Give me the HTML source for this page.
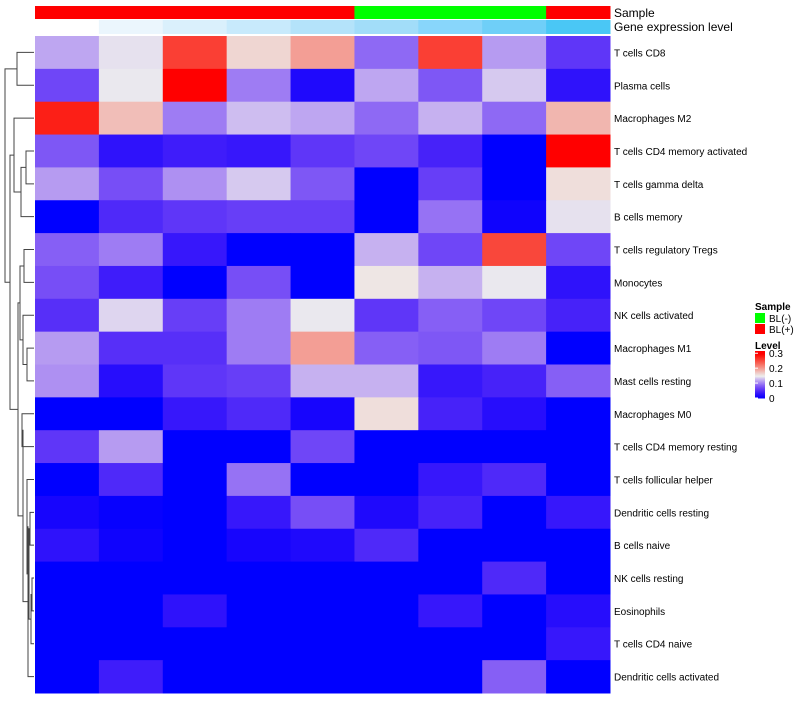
<!DOCTYPE html>
<html><head><meta charset="utf-8">
<style>
body{margin:0;background:#fff;font-family:"Liberation Sans",sans-serif;}
#wrap{position:relative;width:800px;height:700px;}
svg text{font-family:"Liberation Sans",sans-serif;}
</style></head>
<body><div id="wrap">
<svg id="chart" width="800" height="700"></svg>
</div>
<script>
const rowLabels=["T cells CD8","Plasma cells","Macrophages M2","T cells CD4 memory activated","T cells gamma delta","B cells memory","T cells regulatory  Tregs","Monocytes","NK cells activated","Macrophages M1","Mast cells resting","Macrophages M0","T cells CD4 memory resting","T cells follicular helper","Dendritic cells resting","B cells naive","NK cells resting","Eosinophils","T cells CD4 naive","Dendritic cells activated"];
const sampleGroups=["BL(+)","BL(+)","BL(+)","BL(+)","BL(+)","BL(-)","BL(-)","BL(-)","BL(+)"];
const geneLevels=[0,1,2,3,4,5,6,7,8];
const values=[
[0.12,0.145,0.26,0.165,0.2,0.09,0.26,0.115,0.06],
[0.07,0.148,0.3,0.1,0.02,0.12,0.08,0.135,0.03],
[0.28,0.18,0.1,0.13,0.12,0.09,0.125,0.09,0.185],
[0.08,0.03,0.04,0.035,0.06,0.07,0.045,0,0.3],
[0.115,0.075,0.11,0.135,0.08,0,0.065,0,0.16],
[0,0.05,0.06,0.065,0.065,0,0.095,0.01,0.145],
[0.085,0.1,0.035,0,0,0.125,0.07,0.255,0.07],
[0.075,0.04,0,0.075,0,0.155,0.125,0.148,0.03],
[0.055,0.14,0.065,0.1,0.148,0.06,0.085,0.07,0.045],
[0.115,0.055,0.055,0.1,0.2,0.085,0.08,0.1,0],
[0.11,0.025,0.06,0.065,0.125,0.125,0.035,0.045,0.085],
[0,0,0.035,0.05,0.015,0.16,0.045,0.025,0],
[0.06,0.115,0,0,0.07,0,0,0,0],
[0,0.05,0,0.095,0,0,0.035,0.05,0],
[0.015,0.005,0,0.035,0.075,0.02,0.045,0,0.035],
[0.03,0.01,0,0.015,0.02,0.05,0,0,0],
[0,0,0,0,0,0,0,0.05,0],
[0,0,0.03,0,0,0,0.035,0,0.025],
[0,0,0,0,0,0,0,0,0.035],
[0,0.04,0,0,0,0,0,0.085,0]];
const legendTicks=[0,0.1,0.2,0.3];
const NS="http://www.w3.org/2000/svg";
const svg=document.getElementById('chart');
const X0=35,X1=610,Y0=36,Y1=693,VMAX=0.3;
const nC=9,nR=rowLabels.length,cw=(X1-X0)/nC,rh=(Y1-Y0)/nR;
function xs(i){return X0+i*cw;}
function ys(j){return Y0+j*rh;}
function mk(t,a){const e=document.createElementNS(NS,t);for(const k in a)e.setAttribute(k,a[k]);svg.appendChild(e);return e;}
function col(v){let t=Math.max(0,Math.min(1,v/VMAX));let r,g,b;
 if(t<0.5){const s=t/0.5;r=238*s;g=238*Math.pow(s,1.6);b=255-17*s;}
 else{const s=(t-0.5)/0.5;r=238+17*s;g=238*(1-s);b=238*Math.pow(1-s,1.15);}
 return `rgb(${r|0},${g|0},${b|0})`;}
const geneCols=["#ffffff","#ebf6fd","#daf0fc","#c8eafc","#b4e3fa","#a2ddf9","#88d6fb","#6fcff8","#4ac7f5"];
sampleGroups.forEach((s,i)=>{const r=mk('rect',{x:xs(i),y:6,width:cw+0.5,height:13,fill:s==="BL(-)"?"#00ff00":"#ff0000"});
});
geneLevels.forEach((g,i)=>{const r=mk('rect',{x:xs(i),y:20,width:cw+0.5,height:14,fill:geneCols[g]});
});
let t=mk('text',{x:614,y:17,'font-size':12});t.textContent="Sample";
t=mk('text',{x:614,y:31,'font-size':12});t.textContent="Gene expression level";
values.forEach((row,j)=>{row.forEach((v,i)=>{const r=mk('rect',{x:xs(i),y:ys(j),width:cw+0.5,height:rh+0.5,fill:col(v)});
});
const l=mk('text',{x:614,y:ys(j)+rh/2+4,'font-size':10});l.textContent=rowLabels[j];
});
const merges=[[0,1,17],[3,4,26],["m1",5,21],[2,"m2",14],[6,7,24],[9,10,27],[8,"m5",23],["m4","m6",20],[11,12,22],[14,15,30],[16,17,32],["m10",18,31],["m9","m11",29],[13,"m12",27],["m13",19,28],["m8","m14",23],["m7","m15",18],["m3","m16",10],["m0","m17",5]];
const pos={};
function gp(n){if(typeof n==="number")return {y:ys(n)+rh/2,x:34};return pos[n];}
merges.forEach((m,k)=>{const a=gp(m[0]),b=gp(m[1]),h=m[2];
 const p=mk('path',{d:`M${a.x},${a.y}H${h}V${b.y}H${b.x}`,fill:'none',stroke:'#444','stroke-width':1});
 
 pos["m"+k]={x:h,y:(a.y+b.y)/2};});
t=mk('text',{x:755,y:310,'font-size':10,'font-weight':'bold'});t.textContent="Sample";
[["BL(-)","#00ff00"],["BL(+)","#ff0000"]].forEach((e,i)=>{const r=mk('rect',{x:755,y:313+i*11,width:10,height:10,fill:e[1]});

const tx=mk('text',{x:769,y:322+i*11,'font-size':10});tx.textContent=e[0];});
t=mk('text',{x:755,y:349,'font-size':10,'font-weight':'bold'});t.textContent="Level";
const LT=351,LB=398;
for(let k=0;k<40;k++){const v=VMAX*1.05*(1-k/40);const r=mk('rect',{x:755,y:LT+k*(LB-LT)/40,width:10,height:(LB-LT)/40+0.5,fill:col(v)});
}
legendTicks.forEach(v=>{const y=LB-(v/(VMAX*1.05))*(LB-LT);
 const l=mk('line',{x1:755,x2:758,y1:y,y2:y,stroke:'#fff'});
 const tx=mk('text',{x:769,y:y+4,'font-size':10});tx.textContent=String(v);});
</script></body></html>
